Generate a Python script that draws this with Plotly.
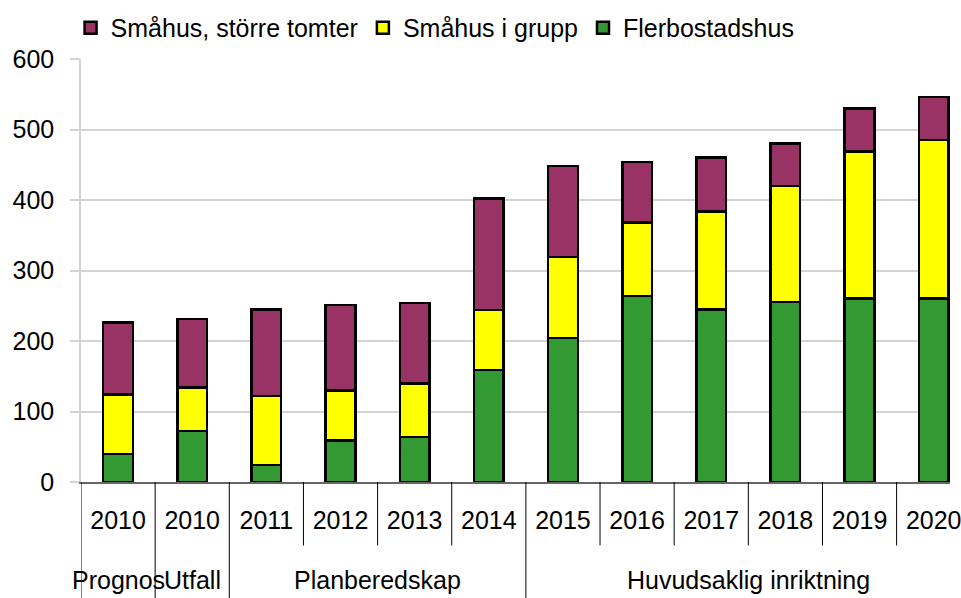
import plotly.graph_objects as go

# ---- data ----
years = ["2010", "2010", "2011", "2012", "2013", "2014",
         "2015", "2016", "2017", "2018", "2019", "2020"]
groups = ["Prognos", "Utfall", "Planberedskap", "Planberedskap", "Planberedskap",
          "Planberedskap", "Huvudsaklig inriktning", "Huvudsaklig inriktning",
          "Huvudsaklig inriktning", "Huvudsaklig inriktning", "Huvudsaklig inriktning",
          "Huvudsaklig inriktning"]
flerbostadshus = [40, 72, 24, 59, 64, 159, 204, 264, 245, 255, 260, 260]
smahus_grupp = [84, 62, 98, 71, 76, 85, 115, 104, 139, 165, 209, 225]
smahus_storre = [102, 97, 123, 121, 114, 158, 129, 86, 76, 60, 61, 61]
y_ticks = [0, 100, 200, 300, 400, 500, 600]

FONT = "Liberation Sans, Arial, sans-serif"
FS = 25
idx = list(range(len(years)))

fig = go.Figure()
series = [
    ("Flerbostadshus", flerbostadshus, "#339933"),
    ("Småhus i grupp", smahus_grupp, "#FFFF00"),
    ("Småhus, större tomter", smahus_storre, "#993366"),
]
for name, vals, col in series:
    fig.add_trace(go.Bar(
        x=idx, y=vals, name=name, width=0.4,
        marker=dict(color=col, line=dict(color="#000000", width=2.5)),
    ))

# ---- x-axis dividers and group labels ----
shapes = []
annotations = []
bounds = [i - 0.5 for i in idx] + [idx[-1] + 0.5]
for b in bounds:
    left = int(b - 0.5) if b > 0 else None
    right = int(b + 0.5) if b + 0.5 < len(idx) else None
    is_group = (left is None or right is None or groups[left] != groups[right])
    shapes.append(dict(
        type="line", xref="x", yref="paper", x0=b, x1=b,
        y0=0, y1=-0.28 if is_group else -0.15,
        line=dict(color="#000000", width=1),
    ))

seen = []
for g in groups:
    if g not in seen:
        seen.append(g)
for g in seen:
    members = [i for i, gg in enumerate(groups) if gg == g]
    annotations.append(dict(
        x=(members[0] + members[-1]) / 2, y=-0.232, xref="x", yref="paper",
        text=g, showarrow=False, yanchor="middle", xanchor="center",
        font=dict(family=FONT, size=FS, color="#000000"),
    ))

fig.update_layout(
    barmode="stack",
    width=961, height=598,
    margin=dict(l=81, r=0, t=59, b=116),
    paper_bgcolor="#FFFFFF", plot_bgcolor="#FFFFFF",
    font=dict(family=FONT, size=FS, color="#000000"),
    showlegend=True,
    legend=dict(
        orientation="h", traceorder="reversed",
        x=-0.012, xanchor="left", y=1.0733, yanchor="middle",
        font=dict(family=FONT, size=FS, color="#000000"),
        itemwidth=30, bgcolor="rgba(0,0,0,0)",
    ),
    xaxis=dict(
        range=[-0.5, 11.22], tickmode="array", tickvals=idx, ticktext=years,
        showgrid=False, zeroline=False, showline=True, linecolor="#666666",
        linewidth=1.5, ticks="", ticklabelstandoff=15, ticklabeloverflow="allow",
        tickfont=dict(family=FONT, size=FS, color="#000000"),
    ),
    yaxis=dict(
        range=[0, 600], tickmode="array", tickvals=y_ticks,
        showgrid=True, gridcolor="#D3D3D3", gridwidth=1.5,
        zeroline=False, showline=True, linecolor="#D3D3D3", linewidth=1.5,
        ticks="outside", ticklen=9, tickcolor="#D3D3D3", tickwidth=1.5,
        ticklabelstandoff=11,
        tickfont=dict(family=FONT, size=FS, color="#000000"),
    ),
    shapes=shapes,
    annotations=annotations,
)

fig.write_html(
    "out.html",
    config={"displayModeBar": False},
    post_script="document.body.style.margin='0';document.body.style.overflow='hidden';",
)
